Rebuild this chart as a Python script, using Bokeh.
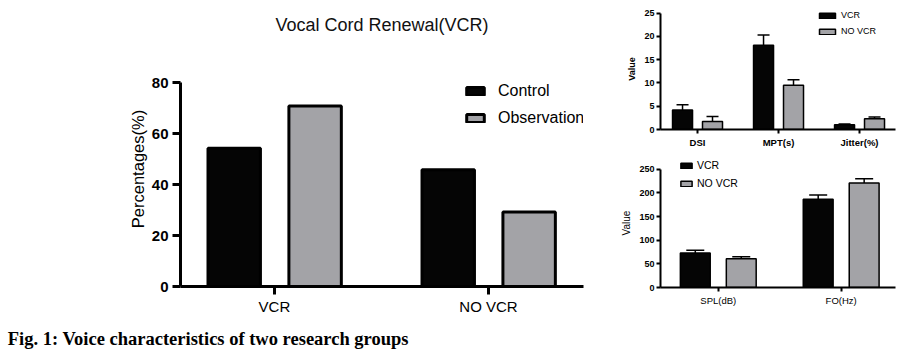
from bokeh.plotting import figure
from bokeh.layouts import column, row
from bokeh.models import (ColumnDataSource, Range1d, FixedTicker, Legend, LegendItem,
                          Whisker, TeeHead, Label)
from bokeh.transform import dodge
from bokeh.embed import file_html
from bokeh.resources import INLINE

# ---------------- data ----------------
main_title = "Vocal Cord Renewal(VCR)"
main_cats = ["VCR", "NO VCR"]
control_pct = [54.2, 45.8]
observation_pct = [70.8, 29.2]
main_yticks = [0, 20, 40, 60, 80]

top_cats = ["DSI", "MPT(s)", "Jitter(%)"]
top_vcr = [4.2, 18.1, 1.0]
top_vcr_err = [1.1, 2.2, 0.2]
top_novcr = [1.7, 9.5, 2.3]
top_novcr_err = [1.1, 1.2, 0.4]
top_yticks = [0, 5, 10, 15, 20, 25]

bot_cats = ["SPL(dB)", "FO(Hz)"]
bot_vcr = [73, 187]
bot_vcr_err = [6, 9]
bot_novcr = [61, 221]
bot_novcr_err = [4, 9]
bot_yticks = [0, 50, 100, 150, 200, 250]

caption = "Fig. 1: Voice characteristics of two research groups"

FONT = "Liberation Sans"
BLACK = "#050505"
GRAY = "#a3a3a7"


def style_axes(p, lw, tick_out, tick_size, tick_bold, xlab_size, xlab_bold):
    p.xgrid.visible = False
    p.ygrid.visible = False
    p.outline_line_color = None
    for ax in (p.xaxis, p.yaxis):
        ax.axis_line_width = lw
        ax.axis_line_color = "black"
        ax.major_tick_line_width = lw
        ax.major_tick_in = 0
        ax.major_tick_out = tick_out
        ax.minor_tick_line_color = None
        ax.major_label_text_font = FONT
        ax.major_label_text_color = "black"
    p.yaxis.major_label_text_font_size = tick_size
    p.yaxis.major_label_text_font_style = "bold" if tick_bold else "normal"
    p.xaxis.major_label_text_font_size = xlab_size
    p.xaxis.major_label_text_font_style = "bold" if xlab_bold else "normal"
    p.yaxis.axis_label_text_font = FONT
    p.yaxis.axis_label_text_color = "black"


# ---------------- main chart ----------------
msrc = ColumnDataSource(dict(x=list(range(len(main_cats))), control=control_pct,
                             observation=observation_pct))
p = figure(width=610, height=320, x_range=Range1d(-0.439, 1.444), y_range=Range1d(0, 92.2),
           output_backend="svg", toolbar_location=None,
           min_border_left=180, min_border_right=27, min_border_top=0, min_border_bottom=34)
p.title.text = main_title
p.title.align = "center"
p.title.vertical_align = "top"
p.title.text_font = FONT
p.title.text_font_size = "18px"
p.title.text_font_style = "normal"
p.title.text_color = "#111111"
p.title.standoff = 29
r1 = p.vbar(x=dodge("x", -0.188), top="control", width=0.245, source=msrc,
            fill_color=BLACK, line_color="black", line_width=3)
r2 = p.vbar(x=dodge("x", 0.19), top="observation", width=0.245, source=msrc,
            fill_color=GRAY, line_color="black", line_width=3)
style_axes(p, 3, 8, "15px", True, "15px", False)
p.xaxis.ticker = FixedTicker(ticks=list(range(len(main_cats))))
p.xaxis.major_label_overrides = {i: c for i, c in enumerate(main_cats)}
p.xaxis.major_label_standoff = 3
p.yaxis.ticker = FixedTicker(ticks=main_yticks)
p.yaxis.bounds = (main_yticks[0], main_yticks[-1])
p.yaxis.major_label_standoff = 4
p.yaxis.axis_label = "Percentages(%)"
p.yaxis.axis_label_text_font_size = "16.5px"
p.yaxis.axis_label_text_font_style = "normal"
p.yaxis.axis_label_standoff = 2
leg = Legend(items=[LegendItem(label="Control", renderers=[r1]),
                    LegendItem(label="Observation", renderers=[r2])],
             location=(284, 158), label_text_font=FONT, label_text_font_size="16px",
             label_text_color="black",
             glyph_width=22, glyph_height=10, label_standoff=12, spacing=7,
             label_height=20, padding=0, margin=0, border_line_alpha=0,
             background_fill_alpha=0)
p.add_layout(leg)


def small_chart(cats, vcr, vcr_err, novcr, novcr_err, yticks, xr, ytop, w, h, borders,
                off, bw, tee, leg_loc, leg_gw, tick_bold, xlab_bold, ylab_bold,
                tick_size, xlab_size, ylab_size, leg_size):
    src = ColumnDataSource(dict(
        x=list(range(len(cats))), vcr=vcr, novcr=novcr,
        vcr_up=[v + e for v, e in zip(vcr, vcr_err)],
        novcr_up=[v + e for v, e in zip(novcr, novcr_err)]))
    f = figure(width=w, height=h, x_range=Range1d(*xr), y_range=Range1d(yticks[0], ytop),
               output_backend="svg", toolbar_location=None,
               min_border_left=borders[0], min_border_right=borders[1],
               min_border_top=borders[2], min_border_bottom=borders[3])
    for col, up, o in (("vcr", "vcr_up", -off), ("novcr", "novcr_up", off)):
        f.add_layout(Whisker(source=src, base=dodge("x", o), lower=col, upper=up,
                             dimension="height", line_width=1.5, line_color="black",
                             upper_head=TeeHead(size=tee, line_width=1.5, line_color="black"),
                             lower_head=None, level="underlay"))
    a = f.vbar(x=dodge("x", -off), top="vcr", width=bw, source=src,
               fill_color=BLACK, line_color="black", line_width=1.5)
    b = f.vbar(x=dodge("x", off), top="novcr", width=bw, source=src,
               fill_color=GRAY, line_color="black", line_width=1.5)
    style_axes(f, 2, 4, tick_size, tick_bold, xlab_size, xlab_bold)
    f.xaxis.ticker = FixedTicker(ticks=list(range(len(cats))))
    f.xaxis.major_label_overrides = {i: c for i, c in enumerate(cats)}
    f.xaxis.major_label_standoff = 3
    f.yaxis.ticker = FixedTicker(ticks=yticks)
    f.yaxis.bounds = (yticks[0], yticks[-1])
    f.yaxis.major_label_standoff = 2
    f.yaxis.axis_label = "Value"
    f.yaxis.axis_label_text_font_size = ylab_size
    f.yaxis.axis_label_text_font_style = "bold" if ylab_bold else "normal"
    f.yaxis.axis_label_standoff = 4
    lg = Legend(items=[LegendItem(label="VCR", renderers=[a]),
                       LegendItem(label="NO VCR", renderers=[b])],
                location=leg_loc, label_text_font=FONT, label_text_font_size=leg_size,
                label_text_color="black",
                glyph_width=leg_gw, glyph_height=7, label_standoff=4, spacing=6,
                label_height=10, padding=0, margin=0, border_line_alpha=0,
                background_fill_alpha=0)
    f.add_layout(lg)
    return f


t = small_chart(top_cats, top_vcr, top_vcr_err, top_novcr, top_novcr_err, top_yticks,
                (-0.457, 2.444), 26, 297, 150, (50, 12, 8, 19), 0.185, 0.247, 12,
                (157, 93), 20, True, True, True, "9px", "9.5px", "9px", "9px")
b = small_chart(bot_cats, bot_vcr, bot_vcr_err, bot_novcr, bot_novcr_err, bot_yticks,
                (-0.47, 1.442), 273, 297, 170, (48, 9, 8, 33), 0.187, 0.243, 18,
                (19, 98), 14, True, False, False, "9px", "9.5px", "10px", "10.5px")

# ---------------- caption ----------------
c = figure(width=907, height=34, x_range=Range1d(0, 1), y_range=Range1d(0, 1),
           output_backend="svg", toolbar_location=None, x_axis_type=None, y_axis_type=None,
           min_border=0)
c.xgrid.visible = False
c.ygrid.visible = False
c.outline_line_color = None
c.add_layout(Label(x=0.008, y=0.47, text=caption, text_font="Liberation Serif",
                   text_font_style="bold", text_font_size="18.5px", text_baseline="middle",
                   text_color="black"))

layout = column(row(p, column(t, b, spacing=0), spacing=0), c, spacing=0)
open("out.html", "w").write(file_html(layout, INLINE))
